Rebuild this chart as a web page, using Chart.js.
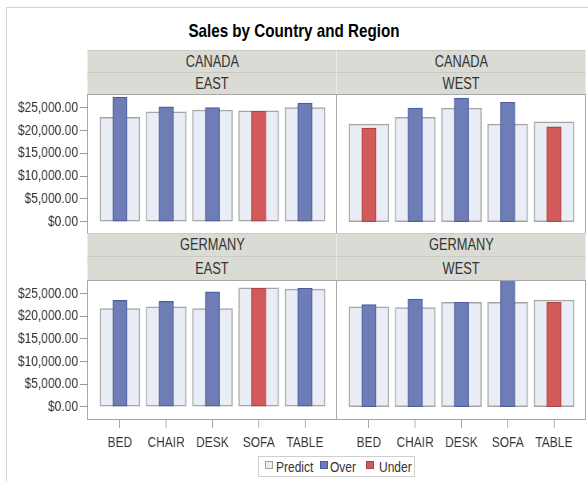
<!DOCTYPE html>
<html>
<head>
<meta charset="utf-8">
<script src="https://cdn.jsdelivr.net/npm/chart.js@4"></script>
<style>
  body { margin: 0; background: #fff; font-family: "Liberation Sans", Arial, sans-serif; color: #333; }
  #page { position: relative; width: 588px; height: 481px; overflow: hidden; }
  .abs { position: absolute; box-sizing: border-box; }
  /* the source picture uses a narrow face, so text is squeezed sideways */
  .sq { display: inline-block; transform: scaleX(0.8); transform-origin: center; white-space: nowrap; }
  #frame { left: 6px; top: 7px; width: 700px; height: 600px; border-left: 1px solid #d4d4d4; border-top: 1px solid #d4d4d4; }
  #title { left: 0; top: 20px; width: 588px; text-align: center; font-weight: bold; font-size: 19px; color: #000; }
  .hdr { background: #d9dbd4; text-align: center; font-size: 16px; color: #333; border: 1px solid #ebebe7; border-top-color: #c9cbc4; }
  .box { border: 1px solid #a8a8a8; }
  canvas { position: absolute; }
  #legend { left: 258px; top: 456px; width: 157px; height: 21px; border: 1px solid #cfcfcf; }
  .sw { width: 8px; height: 8px; border: 1px solid; top: 461px; }
  .lt { top: 457px; font-size: 15px; line-height: 19px; color: #333; transform-origin: left; }
</style>
</head>
<body>
<div id="page">
  <div id="frame" class="abs"></div>
  <div id="title" class="abs"><span class="sq">Sales by Country and Region</span></div>

  <div class="abs hdr" style="left:87px;top:50px;width:250px;height:23px;line-height:21px;"><span class="sq">CANADA</span></div>
  <div class="abs hdr" style="left:336px;top:50px;width:250px;height:23px;line-height:21px;"><span class="sq">CANADA</span></div>
  <div class="abs hdr" style="left:87px;top:72px;width:250px;height:23px;line-height:21px;"><span class="sq">EAST</span></div>
  <div class="abs hdr" style="left:336px;top:72px;width:250px;height:23px;line-height:21px;"><span class="sq">WEST</span></div>
  <div class="abs box" style="left:87px;top:94px;width:250px;height:140px;"></div>
  <div class="abs box" style="left:336px;top:94px;width:250px;height:140px;"></div>

  <div class="abs hdr" style="left:87px;top:233px;width:250px;height:24px;line-height:22px;"><span class="sq">GERMANY</span></div>
  <div class="abs hdr" style="left:336px;top:233px;width:250px;height:24px;line-height:22px;"><span class="sq">GERMANY</span></div>
  <div class="abs hdr" style="left:87px;top:256px;width:250px;height:25px;line-height:23px;"><span class="sq">EAST</span></div>
  <div class="abs hdr" style="left:336px;top:256px;width:250px;height:25px;line-height:23px;"><span class="sq">WEST</span></div>
  <div class="abs box" style="left:87px;top:280px;width:250px;height:140px;"></div>
  <div class="abs box" style="left:336px;top:280px;width:250px;height:140px;"></div>

  <!-- canvases are drawn 1.25x wide and squeezed back to their css width;
       left ones get 15px extra above (and below for the top row) as layout padding -->
  <canvas id="c1" width="420" height="168" style="left:0;top:80px;width:336px;height:168px;"></canvas>
  <canvas id="c2" width="310" height="138" style="left:337px;top:95px;width:248px;height:138px;"></canvas>
  <canvas id="c3" width="420" height="185" style="left:0;top:266px;width:336px;height:185px;"></canvas>
  <canvas id="c4" width="310" height="170" style="left:337px;top:281px;width:248px;height:170px;"></canvas>

  <div id="legend" class="abs"></div>
  <div class="abs sw" style="left:265px;background:#e9edf5;border-color:#a0a0a0"></div>
  <div class="abs lt sq" style="left:276px;">Predict</div>
  <div class="abs sw" style="left:320px;background:#6e7db5;border-color:#4b5b9e"></div>
  <div class="abs lt sq" style="left:330px;">Over</div>
  <div class="abs sw" style="left:366px;background:#d25a5a;border-color:#b04242"></div>
  <div class="abs lt sq" style="left:379px;">Under</div>
</div>

<script>
// categories and values
const categories = ['BED', 'CHAIR', 'DESK', 'SOFA', 'TABLE'];
const yTicks = [0, 5000, 10000, 15000, 20000, 25000];

const canadaEastPredict = [22900, 24100, 24500, 24300, 25000];
const canadaEastActual = [27300, 25200, 25000, 24200, 26000];
const canadaWestPredict = [21400, 22900, 24900, 21400, 21900];
const canadaWestActual = [20500, 24900, 27100, 26200, 20800];
const germanyEastPredict = [21700, 22100, 21700, 26300, 26000];
const germanyEastActual = [23500, 23300, 25400, 26200, 26200];
const germanyWestPredict = [22100, 21900, 23100, 23100, 23600];
const germanyWestActual = [22600, 23800, 23100, 28600, 23100];

Chart.defaults.font.family = '"Liberation Sans", Arial, sans-serif';
Chart.defaults.font.size = 15;
Chart.defaults.color = '#333';

function money(v) {
    return '$' + v.toLocaleString('en-US', { minimumFractionDigits: 2, maximumFractionDigits: 2 });
}

function makePanel(id, predict, actual, showY, showX, yMin, yMax, pad) {
    const pts = (arr) => arr.map((v, i) => ({ x: i, y: v }));
    // split actual into over / under the prediction
    const over = actual.map((v, i) => v >= predict[i] ? v : null);
    const under = actual.map((v, i) => v < predict[i] ? v : null);

    new Chart(document.getElementById(id), {
        type: 'bar',
        data: {
            datasets: [
                {
                    label: 'Predict', data: pts(predict), order: 2, grouped: false,
                    barThickness: 50, backgroundColor: '#e9edf5', borderColor: '#a6a6a6',
                    borderWidth: 1.5, borderSkipped: false
                },
                {
                    label: 'Over', data: pts(over), order: 1, grouped: false,
                    barThickness: 18, backgroundColor: '#6e7db5', borderColor: '#4b5b9e',
                    borderWidth: 1.2, borderSkipped: false, clip: 0
                },
                {
                    label: 'Under', data: pts(under), order: 1, grouped: false,
                    barThickness: 18, backgroundColor: '#d25a5a', borderColor: '#b04242',
                    borderWidth: 1.2, borderSkipped: false, clip: 0
                }
            ]
        },
        options: {
            responsive: false,
            animation: false,
            devicePixelRatio: 1,
            layout: { padding: pad },
            plugins: { legend: { display: false }, tooltip: { enabled: false } },
            scales: {
                x: {
                    type: 'linear',
                    display: showX,
                    offset: false,
                    min: -0.69,
                    max: 4.67,
                    grid: { offset: false, drawOnChartArea: false, tickLength: 8, color: '#9a9a9a' },
                    border: { display: false },
                    afterBuildTicks: (axis) => { axis.ticks = categories.map((c, i) => ({ value: i })); },
                    afterFit: showX ? (axis) => { axis.height = 31; } : undefined,
                    ticks: { autoSkip: false, maxRotation: 0, padding: 6, callback: (v) => categories[v] }
                },
                y: {
                    display: showY,
                    min: yMin,
                    max: yMax,
                    grid: { drawOnChartArea: false, tickLength: 10, color: '#9a9a9a' },
                    border: { display: false },
                    afterBuildTicks: (axis) => {
                        axis.ticks = [yMin, ...yTicks, yMax].map(v => ({ value: v }));
                    },
                    afterFit: showY ? (axis) => { axis.width = 110; } : undefined,
                    ticks: {
                        autoSkip: false, padding: 2.5,
                        callback: (v) => yTicks.includes(v) ? money(v) : null
                    }
                }
            }
        }
    });
}

makePanel('c1', canadaEastPredict, canadaEastActual, true, false, -2480, 27780, { top: 15, bottom: 15 });
makePanel('c2', canadaWestPredict, canadaWestActual, false, false, -2480, 27780, 0);
makePanel('c3', germanyEastPredict, germanyEastActual, true, true, -2940, 27800, { top: 15 });
makePanel('c4', germanyWestPredict, germanyWestActual, false, true, -2940, 27800, 0);
</script>
</body>
</html>
